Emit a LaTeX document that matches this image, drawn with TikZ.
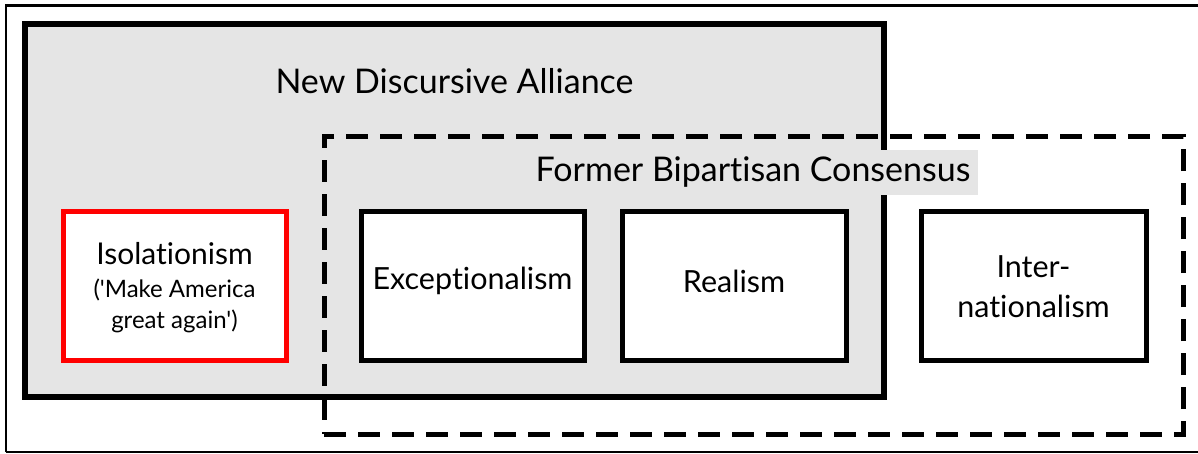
\documentclass[tikz,border=0pt]{standalone}
\usepackage{fontspec}
\setmainfont{Lato}[Ligatures={TeXOff,NoCommon}]
\definecolor{panelgray}{HTML}{E5E5E5}
\definecolor{isored}{HTML}{FF0000}
\tikzset{
  frame/.style={draw=black, line width=2.5pt},
  panel/.style={draw=black, fill=panelgray, line width=6pt, minimum width=859pt, minimum height=373pt, inner sep=0pt},
  consensus/.style={draw=black, line width=5pt, dash pattern=on 22pt off 12pt, minimum width=859pt, minimum height=298pt, inner sep=0pt},
  ideabox/.style={draw=black, fill=white, line width=5pt, minimum height=149pt, inner sep=0pt},
  idealabel/.style={inner sep=0pt, align=center, font=\fontsize{30.5}{38}\selectfont},
  title/.style={inner sep=0pt, font=\fontsize{34}{40}\selectfont},
}
\begin{document}
\begin{tikzpicture}[x=1pt,y=-1pt]
\useasboundingbox (0,0) rectangle (1198,453);
\draw[frame] (6,452) -- (6,5.5) -- (1210,5.5);
\draw[frame] (6,452) -- (1210,452);
\node[panel] (alliance) at (454.5,210.5) {};
\node[title] (alliancelabel) at (454.5,81) {New Discursive Alliance};
\node[consensus] (former) at (753.5,285) {};
\node[title, fill=panelgray, inner xsep=8pt, minimum height=45pt] (formerlabel) at (753,172.5) {Former Bipartisan Consensus};
\node[ideabox, draw=isored, minimum width=223pt] (iso) at (174.5,285.5) {};
\node[align=center, inner sep=0pt, font=\fontsize{24}{31}\selectfont] (isotext) at (174.5,288) {{\fontsize{30}{36}\selectfont Isolationism}\\[2pt]('Make America\\great again')};
\node[ideabox, minimum width=223pt] (exc) at (472.5,285.5) {};
\node[idealabel] (exctext) at (472.5,281) {Exceptionalism};
\node[ideabox, minimum width=224pt] (real) at (734,285.5) {};
\node[idealabel] (realtext) at (734,281) {Realism};
\node[ideabox, minimum width=225pt] (inter) at (1033.5,285.5) {};
\node[idealabel, font=\fontsize{30.5}{40}\selectfont] (intertext) at (1033.5,287) {Inter-\\nationalism};
\end{tikzpicture}
\end{document}
